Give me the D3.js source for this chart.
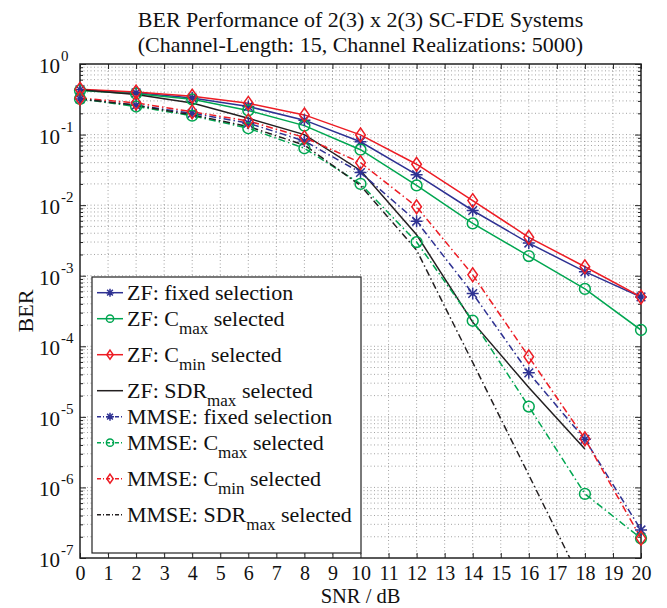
<!DOCTYPE html>
<html>
<head>
<meta charset="utf-8">
<script src="https://cdn.jsdelivr.net/npm/d3@7"></script>
<style>
  body { margin: 0; background: #fff; }
  svg { display: block; font-family: "Liberation Serif", "DejaVu Serif", serif; }
</style>
</head>
<body>
<div id="chart"></div>
<script>
// Values (BER vs SNR).
const snrValues = [0, 2, 4, 6, 8, 10, 12, 14, 16, 18, 20];
const xTickValues = d3.range(0, 21);
const yExponents = [0, -1, -2, -3, -4, -5, -6, -7];

const zfFixed = [0.43, 0.39, 0.33, 0.25, 0.16, 0.079, 0.027, 0.0084, 0.0029, 0.00114, 0.0005];
const zfCmax = [0.42, 0.38, 0.316, 0.22, 0.134, 0.061, 0.019, 0.0055, 0.0019, 0.00065, 0.00017];
const zfCmin = [0.44, 0.4, 0.35, 0.277, 0.19, 0.099, 0.038, 0.0116, 0.0035, 0.00134, 0.0005];
const zfSdrMax = [0.43, 0.37, 0.28, 0.17, 0.1, 0.031, 0.0038, 0.00022, 2.6e-5, 3.5e-6];
const mmseFixed = [0.32, 0.26, 0.2, 0.145, 0.081, 0.029, 0.0059, 0.00056, 4.2e-5, 4.8e-6, 2.5e-7];
const mmseCmax = [0.32, 0.25, 0.185, 0.123, 0.064, 0.02, 0.003, 0.00023, 1.4e-5, 8.1e-7, 1.9e-7];
const mmseCmin = [0.33, 0.28, 0.21, 0.156, 0.091, 0.04, 0.0095, 0.00103, 7.1e-5, 4.9e-6, 1.9e-7];
const mmseSdrMax = [0.32, 0.26, 0.19, 0.13, 0.071, 0.019, 0.0023, 5.9e-5, 1.5e-6, 3.7e-8];

const titleLines = [
  "BER Performance of 2(3) x 2(3) SC-FDE Systems",
  "(Channel-Length: 15, Channel Realizations: 5000)",
];
const xLabel = "SNR / dB";
const yLabel = "BER";

const blue = "#2e3192";
const green = "#00a651";
const red = "#ed1c24";
const black = "#231f20";
const dashDot = "7,3,1.5,3";

const series = [
  { values: zfFixed, color: blue, dash: null, marker: "star", label: ["ZF: fixed selection"] },
  { values: zfCmax, color: green, dash: null, marker: "circle", label: ["ZF: C", "max", " selected"] },
  { values: zfCmin, color: red, dash: null, marker: "diamond", label: ["ZF: C", "min", " selected"] },
  { values: zfSdrMax, color: black, dash: null, marker: null, label: ["ZF: SDR", "max", " selected"] },
  { values: mmseFixed, color: blue, dash: dashDot, marker: "star", label: ["MMSE: fixed selection"] },
  { values: mmseCmax, color: green, dash: dashDot, marker: "circle", label: ["MMSE: C", "max", " selected"] },
  { values: mmseCmin, color: red, dash: dashDot, marker: "diamond", label: ["MMSE: C", "min", " selected"] },
  { values: mmseSdrMax, color: black, dash: dashDot, marker: null, label: ["MMSE: SDR", "max", " selected"] },
];

function markerPath(type, s) {
  if (type === "star") {
    const d = s * 0.72;
    return `M${-s},0H${s}M0,${-s}V${s}M${-d},${-d}L${d},${d}M${-d},${d}L${d},${-d}`;
  }
  if (type === "diamond") {
    const w = s * 0.8;
    const h = s * 1.15;
    return `M0,${-h}L${w},0L0,${h}L${-w},0Z`;
  }
  return null;
}

function drawMarker(group, type, x, y, color, size) {
  if (!type) return;
  if (type === "circle") {
    group.append("circle")
      .attr("cx", x).attr("cy", y).attr("r", size * 0.9)
      .attr("fill", "none").attr("stroke", color).attr("stroke-width", 1.5);
  } else {
    group.append("path")
      .attr("transform", `translate(${x},${y})`)
      .attr("d", markerPath(type, size))
      .attr("fill", "none").attr("stroke", color).attr("stroke-width", 1.5);
  }
}

document.addEventListener("DOMContentLoaded", () => {
  const width = 667;
  const height = 608;
  const plot = { left: 80, right: 641, top: 64, bottom: 558 };

  const svg = d3.select("#chart").append("svg")
    .attr("width", width).attr("height", height)
    .attr("viewBox", `0 0 ${width} ${height}`);

  const xScale = d3.scaleLinear().domain([0, 20]).range([plot.left, plot.right]);
  const yScale = d3.scaleLog().domain([1e-7, 1]).range([plot.bottom, plot.top]);

  const majorY = yExponents.map((e) => Math.pow(10, e));
  const minorY = yScale.ticks().filter((v) => !majorY.some((m) => Math.abs(m - v) / m < 1e-6));

  // Сетка (пунктир)
  const grid = svg.append("g").attr("class", "grid")
    .attr("stroke", "#8c8c8c").attr("stroke-width", 0.8).attr("stroke-dasharray", "1,2.5");
  xTickValues.slice(1, -1).forEach((v) => {
    grid.append("line")
      .attr("x1", xScale(v)).attr("x2", xScale(v))
      .attr("y1", plot.top).attr("y2", plot.bottom);
  });
  yScale.ticks().filter((v) => v > 1e-7 && v < 1).forEach((v) => {
    grid.append("line")
      .attr("x1", plot.left).attr("x2", plot.right)
      .attr("y1", yScale(v)).attr("y2", yScale(v));
  });

  // Тики внутрь, со всех сторон
  const axisStyle = (g) => {
    g.select(".domain").remove();
    g.selectAll(".tick line").attr("stroke", "#222").attr("stroke-width", 1);
  };
  svg.append("g").attr("transform", `translate(0,${plot.bottom})`)
    .call(d3.axisBottom(xScale).tickValues(xTickValues).tickSizeInner(-5).tickSizeOuter(0).tickPadding(22))
    .call(axisStyle)
    .call((g) => g.attr("font-family", null).attr("font-size", null))
    .call((g) => g.selectAll(".tick text")
      .attr("font-size", 20).attr("fill", "#111").attr("dy", 0));
  svg.append("g").attr("transform", `translate(0,${plot.top})`)
    .call(d3.axisTop(xScale).tickValues(xTickValues).tickSizeInner(-5).tickSizeOuter(0).tickFormat(""))
    .call(axisStyle);
  [plot.left, plot.right].forEach((x, k) => {
    const axisFn = k === 0 ? d3.axisLeft : d3.axisRight;
    svg.append("g").attr("transform", `translate(${x},0)`)
      .call(axisFn(yScale).tickValues(majorY).tickSizeInner(-6).tickSizeOuter(0).tickFormat(""))
      .call(axisStyle);
    svg.append("g").attr("transform", `translate(${x},0)`)
      .call(axisFn(yScale).tickValues(minorY).tickSizeInner(-3).tickSizeOuter(0).tickFormat(""))
      .call(axisStyle);
  });

  // Подписи 10^n
  const yLabels = svg.append("g").attr("font-size", 21).attr("fill", "#111");
  yExponents.forEach((e) => {
    const y = yScale(Math.pow(10, e));
    yLabels.append("text")
      .attr("x", 60).attr("y", y + 9)
      .attr("text-anchor", "end").text("10");
    yLabels.append("text")
      .attr("x", 61).attr("y", y - 3)
      .attr("font-size", 15).text(e === 0 ? "0" : `-${-e}`);
  });

  // Рамка
  svg.append("rect")
    .attr("x", plot.left).attr("y", plot.top)
    .attr("width", plot.right - plot.left).attr("height", plot.bottom - plot.top)
    .attr("fill", "none").attr("stroke", "#222").attr("stroke-width", 1.5);

  // Линии
  svg.append("defs").append("clipPath").attr("id", "plot-clip")
    .append("rect")
    .attr("x", plot.left).attr("y", plot.top)
    .attr("width", plot.right - plot.left).attr("height", plot.bottom - plot.top);

  const lines = svg.append("g").attr("clip-path", "url(#plot-clip)");
  const markers = svg.append("g");
  const lineGen = d3.line()
    .x((d, i) => xScale(snrValues[i]))
    .y((d) => yScale(d));

  series.forEach((s) => {
    lines.append("path")
      .datum(s.values)
      .attr("fill", "none")
      .attr("stroke", s.color)
      .attr("stroke-width", 1.5)
      .attr("stroke-dasharray", s.dash)
      .attr("d", lineGen);
    const sg = markers.append("g");
    s.values.forEach((v, i) => {
      if (v < 1e-7) return;
      drawMarker(sg, s.marker, xScale(snrValues[i]), yScale(v), s.color, 6);
    });
  });

  // Заголовок и подписи осей
  const cx = (plot.left + plot.right) / 2;
  svg.append("g").attr("font-size", 22).attr("fill", "#111").attr("text-anchor", "middle")
    .selectAll("text").data(titleLines).join("text")
    .attr("x", cx).attr("y", (d, i) => 27 + i * 25)
    .text((d) => d);
  svg.append("text")
    .attr("x", cx).attr("y", 603)
    .attr("text-anchor", "middle").attr("font-size", 20.5).attr("fill", "#111")
    .text(xLabel);
  svg.append("text")
    .attr("transform", `translate(33,${(plot.top + plot.bottom) / 2}) rotate(-90)`)
    .attr("text-anchor", "middle").attr("font-size", 22).attr("fill", "#111")
    .text(yLabel);

  // Легенда
  const legend = { left: 92, top: 277, right: 361, bottom: 553 };
  const lg = svg.append("g");
  lg.append("rect")
    .attr("x", legend.left).attr("y", legend.top)
    .attr("width", legend.right - legend.left).attr("height", legend.bottom - legend.top)
    .attr("fill", "#fff").attr("stroke", "#222").attr("stroke-width", 1.2);

  // строки с индексом выше
  let rowY = 292.7;
  series.forEach((s, i) => {
    if (i > 0) {
      const prevH = series[i - 1].label.length > 1 ? 36 : 16;
      const curH = s.label.length > 1 ? 36 : 16;
      rowY += (prevH + curH) / 2;
    }
    lg.append("line")
      .attr("x1", 97).attr("x2", 123).attr("y1", rowY).attr("y2", rowY)
      .attr("stroke", s.color).attr("stroke-width", 1.5)
      .attr("stroke-dasharray", s.dash ? "4,2,1,2" : null);
    drawMarker(lg, s.marker, 110, rowY, s.color, 4);

    const t = lg.append("text")
      .attr("x", 127).attr("y", rowY + 7.5)
      .attr("font-size", 22).attr("fill", "#111");
    t.append("tspan").text(s.label[0]);
    if (s.label.length > 1) {
      t.append("tspan").attr("dy", 8).attr("font-size", 17).text(s.label[1]);
      t.append("tspan").attr("dy", -8).text(s.label[2]);
    }
  });
});
</script>
</body>
</html>
